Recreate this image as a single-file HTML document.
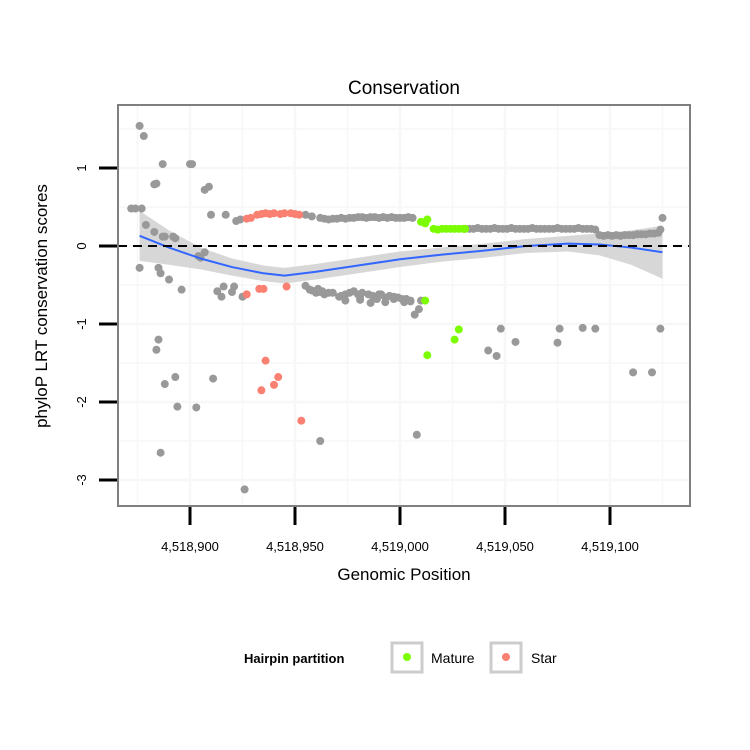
<!DOCTYPE html>
<html><head><meta charset="utf-8">
<style>
body{margin:0;background:#fff;}
svg{display:block;font-family:"Liberation Sans",sans-serif;}
</style></head>
<body>
<svg id="chart" width="750" height="750" viewBox="0 0 750 750">
<rect width="750" height="750" fill="#fff"/>
<text x="404" y="94" font-size="19" text-anchor="middle">Conservation</text>
<g id="grid"></g>
<g id="band"></g>
<g id="points"></g>
<g id="smooth"></g>
<line x1="118" x2="690" y1="246" y2="246" stroke="#000" stroke-width="2" stroke-dasharray="9,6"/>
<rect x="118" y="105" width="572" height="401" fill="none" stroke="#7f7f7f" stroke-width="2"/>
<g id="axes"></g>
<text x="404" y="580" font-size="17" text-anchor="middle">Genomic Position</text>
<text transform="translate(47,306) rotate(-90)" font-size="17" text-anchor="middle">phyloP LRT conservation scores</text>
<g>
<text x="244" y="663" font-size="13" font-weight="bold">Hairpin partition</text>
<rect x="392" y="643" width="30" height="29" fill="#fff" stroke="#cccccc" stroke-width="3"/>
<circle cx="407" cy="657" r="4" fill="#7cfc00"/>
<text x="431" y="663" font-size="14">Mature</text>
<rect x="491" y="643" width="30" height="29" fill="#fff" stroke="#cccccc" stroke-width="3"/>
<circle cx="506" cy="657" r="4" fill="#fa8072"/>
<text x="531" y="663" font-size="14">Star</text>
</g>
</svg>
<script>
const xTicks=[4518900,4518950,4519000,4519050,4519100];
const xTickLabels=["4,518,900","4,518,950","4,519,000","4,519,050","4,519,100"];
const yTicks=[1,0,-1,-2,-3];
const yTickLabels=["1","0","-1","-2","-3"];
const grayPos=[4518876,4518878,4518884,4518887,4518900,4518901,4518883,4518907,4518909,4518874,4518872,4518877,4518910,4518917,4518922,4518924,4518879,4518883,4518887,4518888,4518893,4518892,
4518876,4518885,4518886,4518890,4518896,4518904,4518907,4518905,4518913,4518915,4518916,4518920,4518921,4518925,4518955,4518957,4518962,4518966,4518971,4518974,4518981,4518986,4518981,4518990,4518993,4518997,4519002,4519005,4519010,4519007,4519009,
4518885,4518884,4518893,4518888,4518911,4518894,4518903,4518886,4518926,4518962,4519008,4519042,4519046,4519048,4519055,4519076,4519075,4519087,4519093,4519111,4519120,4519124,
4518958,4518960,4518961,4518963,4518964,4518968,4518972,4518974,4518976,4518978,4518980,4518982,4518985,4518987,4518989,4518991,4518993,4518995,4518997,4518999,4519001,4519003,4519005];
const grayScore=[1.54,1.41,0.8,1.05,1.05,1.05,0.79,0.72,0.76,0.48,0.48,0.48,0.4,0.4,0.32,0.34,0.27,0.18,0.12,0.12,0.1,0.12,
-0.28,-0.28,-0.35,-0.43,-0.56,-0.13,-0.08,-0.15,-0.58,-0.65,-0.52,-0.59,-0.52,-0.65,-0.51,-0.56,-0.59,-0.6,-0.65,-0.7,-0.65,-0.73,-0.69,-0.62,-0.72,-0.65,-0.72,-0.71,-0.7,-0.88,-0.81,
-1.2,-1.33,-1.68,-1.77,-1.7,-2.06,-2.07,-2.65,-3.12,-2.5,-2.42,-1.34,-1.41,-1.06,-1.23,-1.06,-1.24,-1.05,-1.06,-1.62,-1.62,-1.06,
-0.57,-0.6,-0.55,-0.58,-0.62,-0.6,-0.64,-0.62,-0.6,-0.58,-0.62,-0.6,-0.62,-0.64,-0.68,-0.62,-0.66,-0.64,-0.68,-0.66,-0.68,-0.68,-0.7];
// dense upper rows
const rowPos=[4518955,4518958,4518962,4518964,4518966,4518968,4518970,4518972,4518974,4518976,4518978,4518980,4518982,4518984,4518986,4518988,4518990,4518992,4518994,4518996,4518998,4519000,4519002,4519004,4519006,
4519031,4519033,4519035,4519037,4519039,4519041,4519043,4519045,4519047,4519049,4519051,4519053,4519055,4519057,4519059,4519061,4519063,4519065,4519067,4519069,4519071,4519073,4519075,4519077,4519079,4519081,4519083,4519085,4519087,4519089,4519091,4519093,
4519095,4519097,4519099,4519101,4519103,4519105,4519107,4519109,4519111,4519113,4519115,4519117,4519119,4519121,4519123,4519124,4519125];
const rowScore=[0.4,0.38,0.36,0.35,0.34,0.35,0.35,0.36,0.35,0.36,0.36,0.37,0.37,0.36,0.37,0.37,0.36,0.37,0.36,0.37,0.36,0.36,0.36,0.37,0.36,
0.22,0.22,0.22,0.23,0.22,0.22,0.22,0.23,0.22,0.22,0.22,0.23,0.22,0.22,0.22,0.22,0.23,0.22,0.22,0.22,0.22,0.22,0.23,0.22,0.22,0.22,0.22,0.23,0.22,0.22,0.22,0.21,
0.14,0.13,0.14,0.13,0.14,0.13,0.14,0.14,0.14,0.15,0.15,0.15,0.16,0.16,0.17,0.21,0.36];
const maturePos=[4519010,4519012,4519013,4519016,4519018,4519020,4519022,4519024,4519026,4519028,4519030,4519031,4519012,4519028,4519026,4519013];
const matureScore=[0.31,0.29,0.34,0.22,0.21,0.22,0.22,0.22,0.22,0.22,0.22,0.22,-0.7,-1.07,-1.2,-1.4];
const starPos=[4518927,4518929,4518932,4518934,4518936,4518938,4518940,4518943,4518945,4518948,4518950,4518952,4518927,4518933,4518946,4518936,4518942,4518940,4518934,4518953,4518935];
const starScore=[0.35,0.36,0.4,0.41,0.42,0.41,0.42,0.41,0.42,0.42,0.41,0.4,-0.62,-0.55,-0.52,-1.47,-1.68,-1.78,-1.85,-2.24,-0.55];
const smoothPos=[4518876,4518890,4518905,4518920,4518935,4518945,4518960,4518980,4519000,4519020,4519040,4519060,4519080,4519095,4519110,4519125];
const smoothFit=[0.13,-0.02,-0.16,-0.27,-0.35,-0.38,-0.33,-0.25,-0.17,-0.11,-0.06,0.0,0.03,0.02,-0.02,-0.08];
const smoothSE=[0.32,0.22,0.14,0.11,0.1,0.1,0.1,0.1,0.1,0.09,0.09,0.09,0.1,0.14,0.22,0.34];

const NS='http://www.w3.org/2000/svg';
const sx=v=>190+(v-4518900)*2.1;
const sy=v=>246-v*78;
function mk(tag,attrs,parent){const e=document.createElementNS(NS,tag);for(const k in attrs)e.setAttribute(k,attrs[k]);parent.appendChild(e);return e;}
const grid=document.getElementById('grid');
[4518875,4518900,4518925,4518950,4518975,4519000,4519025,4519050,4519075,4519100,4519125].forEach(v=>{
 const l=mk('line',{x1:sx(v),x2:sx(v),y1:106,y2:505,stroke:'#f7f7f7','stroke-width':v%50===0?2.5:1.5},grid);
 
 
});
[1.5,1,0.5,0,-0.5,-1,-1.5,-2,-2.5,-3].forEach(v=>{
 const l=mk('line',{x1:119,x2:689,y1:sy(v),y2:sy(v),stroke:'#f7f7f7','stroke-width':Number.isInteger(v)?2.5:1.5},grid);
 
 
});
let up=smoothPos.map((p,i)=>sx(p)+','+sy(smoothFit[i]+smoothSE[i]));
let lo=smoothPos.map((p,i)=>sx(p)+','+sy(smoothFit[i]-smoothSE[i])).reverse();
const band=mk('polygon',{points:up.concat(lo).join(' '),fill:'#d0d0d0','fill-opacity':0.85},document.getElementById('band'));


const pts=document.getElementById('points');
function drawPts(P,S,col,name){P.forEach((p,i)=>{
 const c=mk('circle',{cx:sx(p),cy:sy(S[i]),r:4,fill:col},pts);
 
 
});}
drawPts(grayPos,grayScore,'#999999','point-other');
drawPts(rowPos,rowScore,'#999999','point-other');
drawPts(starPos,starScore,'#fa8072','point-star');
drawPts(maturePos,matureScore,'#7cfc00','point-mature');
const sm=mk('polyline',{points:smoothPos.map((p,i)=>sx(p)+','+sy(smoothFit[i])).join(' '),fill:'none',stroke:'#3366ff','stroke-width':2,'stroke-linejoin':'round'},document.getElementById('smooth'));


const ax=document.getElementById('axes');
xTicks.forEach((v,i)=>{
 const t=mk('line',{x1:sx(v),x2:sx(v),y1:507,y2:525,stroke:'#000','stroke-width':3},ax);
 
 
 const l=mk('text',{x:sx(v),y:551,'font-size':13,'text-anchor':'middle'},ax);
 l.textContent=xTickLabels[i];
 
 
});
yTicks.forEach((v,i)=>{
 const t=mk('line',{x1:99,x2:117,y1:sy(v),y2:sy(v),stroke:'#000','stroke-width':3},ax);
 
 
 const l=mk('text',{transform:`translate(86,${sy(v)}) rotate(-90)`,'font-size':13,'text-anchor':'middle'},ax);
 l.textContent=yTickLabels[i];
 
 
});
</script>
</body></html>
